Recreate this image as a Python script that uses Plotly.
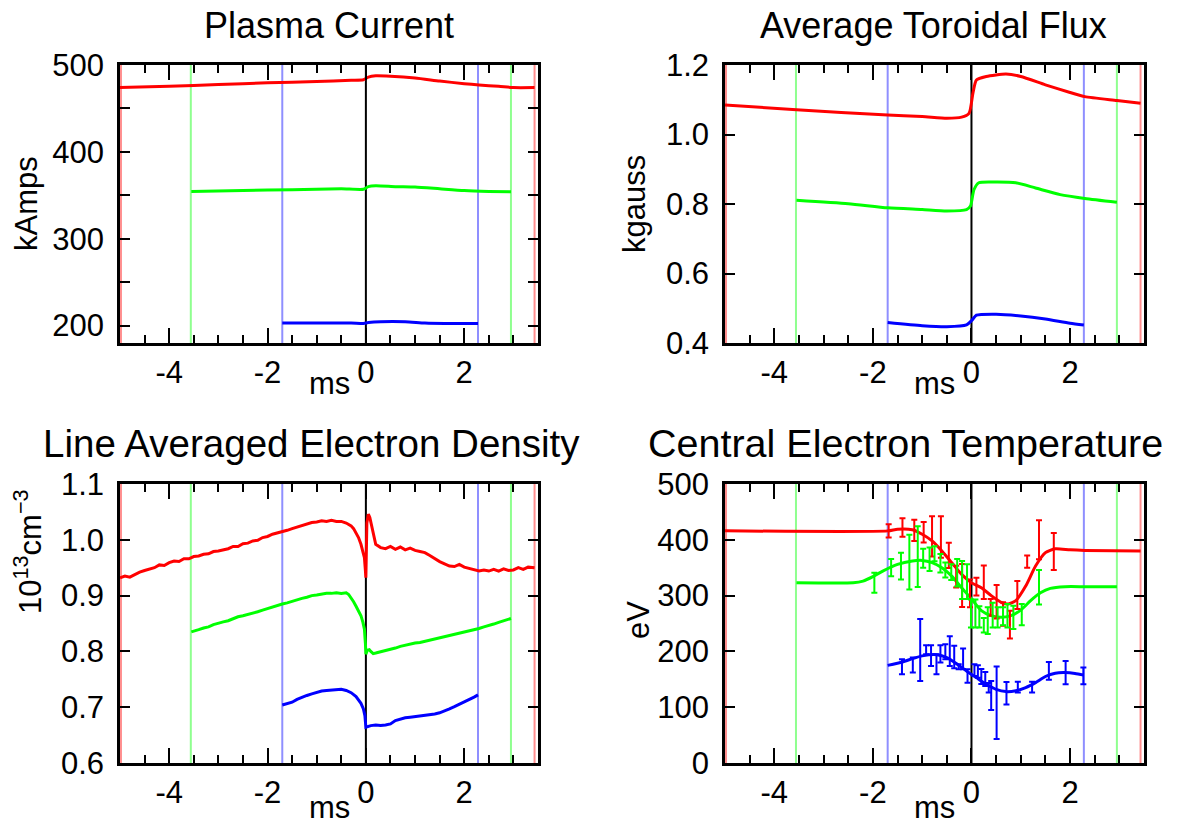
import plotly.graph_objects as go
from plotly.subplots import make_subplots

# ---------------- data ----------------
# event markers (ms)
red_window = [-4.98, 3.43]
green_window = [-3.56, 2.95]
blue_window = [-1.70, 2.28]
zero_time = [0.0]

# x tick labels (hyphen minus as in the original)
x_tickvals = [-4, -2, 0, 2]
x_ticktext = ["-4", "-2", "0", "2"]

# Plasma current (kA)
ip_red_t = [-5.0, -4.0, -3.0, -2.0, -1.0, -0.3, -0.05, 0.05, 0.2, 0.5, 1.0, 1.5, 2.0, 2.3, 2.7, 3.0, 3.43]
ip_red_v = [474, 475.5, 477.5, 479.5, 481, 482.5, 483, 486, 487.5, 487, 485, 481.5, 478.5, 477, 475.5, 474, 474]
ip_green_t = [-3.55, -2.5, -1.5, -0.5, -0.05, 0.05, 0.2, 0.6, 1.0, 1.5, 2.0, 2.5, 2.95]
ip_green_v = [354.5, 355.5, 356.5, 357.5, 357, 360, 361, 360, 359.5, 357.5, 355.5, 354.5, 354]
ip_blue_t = [-1.7, -1.0, -0.3, -0.05, 0.05, 0.3, 0.8, 1.2, 1.6, 2.0, 2.28]
ip_blue_v = [203, 203, 203, 202.5, 203.5, 204.5, 204.5, 203, 202.5, 202.5, 202.5]

# Average toroidal flux (kgauss)
bt_red_t = [-5.0, -3.55, -1.7, -1.0, -0.5, -0.2, -0.05, 0.03, 0.1, 0.3, 0.7, 1.0, 1.5, 2.0, 2.3, 2.95, 3.43]
bt_red_v = [1.085, 1.071, 1.056, 1.052, 1.047, 1.050, 1.061, 1.119, 1.157, 1.167, 1.174, 1.167, 1.143, 1.121, 1.109, 1.098, 1.090]
bt_green_t = [-3.55, -2.5, -1.7, -1.0, -0.5, -0.1, -0.02, 0.05, 0.15, 0.5, 0.9, 1.3, 1.8, 2.3, 2.95]
bt_green_v = [0.811, 0.801, 0.789, 0.784, 0.780, 0.784, 0.794, 0.841, 0.861, 0.863, 0.861, 0.846, 0.827, 0.816, 0.805]
bt_blue_t = [-1.7, -1.0, -0.5, -0.1, 0.0, 0.1, 0.5, 1.0, 1.5, 2.0, 2.28]
bt_blue_v = [0.459, 0.450, 0.447, 0.452, 0.464, 0.480, 0.483, 0.478, 0.469, 0.457, 0.452]

# Line averaged electron density (1e13 cm^-3)
ne_red_t = [-5.0, -4.9, -4.8, -4.7, -4.6, -4.5, -4.4, -4.3, -4.2, -4.1, -4.0, -3.9, -3.8, -3.7, -3.6,
            -3.5, -3.4, -3.3, -3.2, -3.1, -3.0, -2.9, -2.8, -2.7, -2.6, -2.5, -2.4, -2.3, -2.2, -2.1,
            -2.0, -1.9, -1.8, -1.7, -1.6, -1.5, -1.4, -1.3, -1.2, -1.1, -1.0, -0.9, -0.8, -0.7, -0.6,
            -0.5, -0.4, -0.3, -0.25, -0.2, -0.15, -0.1, -0.06, -0.03, -0.01, 0.0,
            0.02, 0.05, 0.08, 0.12, 0.16, 0.2, 0.3, 0.4, 0.5, 0.6, 0.7, 0.8, 0.9, 1.0, 1.1, 1.2, 1.3,
            1.4, 1.5, 1.6, 1.7, 1.8, 1.9, 2.0, 2.1, 2.2, 2.3, 2.4, 2.5, 2.6, 2.7, 2.8, 2.9, 3.0, 3.1,
            3.2, 3.3, 3.43]
ne_red_v = [0.932, 0.935, 0.933, 0.938, 0.942, 0.945, 0.948, 0.950, 0.955, 0.954, 0.959, 0.962, 0.961, 0.966, 0.966,
            0.970, 0.971, 0.974, 0.975, 0.979, 0.980, 0.982, 0.984, 0.988, 0.988, 0.993, 0.994, 0.998, 0.999, 1.004,
            1.006, 1.010, 1.012, 1.015, 1.017, 1.020, 1.023, 1.026, 1.029, 1.031, 1.032, 1.034, 1.033, 1.035, 1.033,
            1.033, 1.030, 1.025, 1.020, 1.013, 1.004, 0.992, 0.980, 0.968, 0.945, 0.932,
            1.030, 1.046, 1.040, 1.025, 1.005, 0.992, 0.986, 0.984, 0.988, 0.983, 0.987, 0.982, 0.985, 0.981, 0.979, 0.977, 0.972,
            0.966, 0.961, 0.957, 0.953, 0.952, 0.956, 0.951, 0.949, 0.946, 0.944, 0.946, 0.944, 0.947, 0.944, 0.948, 0.945, 0.946, 0.950,
            0.947, 0.951, 0.950]
ne_green_t = [-3.55, -3.5, -3.4, -3.3, -3.2, -3.1, -3.0, -2.9, -2.8, -2.7, -2.6, -2.5, -2.4, -2.3, -2.2, -2.1,
              -2.0, -1.9, -1.8, -1.7, -1.6, -1.5, -1.4, -1.3, -1.2, -1.1, -1.0, -0.9, -0.8, -0.7, -0.6, -0.5,
              -0.4, -0.35, -0.3, -0.25, -0.2, -0.15, -0.1, -0.06, -0.03, -0.01, 0.0,
              0.03, 0.07, 0.1, 0.15, 0.2, 0.3, 0.4, 0.5, 0.6, 0.7, 0.8, 0.9, 1.0, 1.1, 1.2, 1.3, 1.4, 1.5,
              1.6, 1.7, 1.8, 1.9, 2.0, 2.1, 2.2, 2.3, 2.4, 2.5, 2.6, 2.7, 2.8, 2.9, 2.95]
ne_green_v = [0.835, 0.836, 0.839, 0.842, 0.844, 0.848, 0.851, 0.853, 0.855, 0.859, 0.862, 0.864, 0.866, 0.869, 0.871, 0.874,
              0.877, 0.879, 0.882, 0.885, 0.887, 0.890, 0.892, 0.895, 0.897, 0.900, 0.901, 0.903, 0.904, 0.904, 0.905, 0.904,
              0.905, 0.902, 0.896, 0.889, 0.881, 0.873, 0.864, 0.852, 0.840, 0.815, 0.795,
              0.802, 0.803, 0.800, 0.796, 0.797, 0.799, 0.802, 0.804, 0.806, 0.809, 0.811, 0.814, 0.815, 0.816, 0.818, 0.820, 0.822, 0.824,
              0.826, 0.828, 0.830, 0.832, 0.834, 0.836, 0.839, 0.841, 0.844, 0.846, 0.849, 0.852, 0.855, 0.858, 0.859]
ne_blue_t = [-1.7, -1.6, -1.5, -1.4, -1.3, -1.2, -1.1, -1.0, -0.9, -0.8, -0.7, -0.6, -0.5, -0.4, -0.3, -0.2,
             -0.15, -0.1, -0.05, -0.02, 0.0, 0.05, 0.1, 0.2, 0.3, 0.4, 0.5, 0.6, 0.7, 0.8, 0.9, 1.0, 1.1, 1.2,
             1.3, 1.4, 1.5, 1.6, 1.7, 1.8, 1.9, 2.0, 2.1, 2.2, 2.28]
ne_blue_v = [0.704, 0.706, 0.709, 0.714, 0.718, 0.721, 0.724, 0.727, 0.729, 0.730, 0.731, 0.732, 0.732, 0.730, 0.726, 0.719,
             0.714, 0.707, 0.697, 0.685, 0.664, 0.666, 0.667, 0.668, 0.667, 0.668, 0.670, 0.676, 0.679, 0.681, 0.682, 0.683, 0.684, 0.685,
             0.686, 0.688, 0.690, 0.693, 0.697, 0.701, 0.705, 0.709, 0.713, 0.718, 0.722]

# Central electron temperature (eV): fitted curves
te_red_fit_t = [-5.0, -1.7, -1.5, -1.2, -1.0, -0.8, -0.6, -0.4, -0.2, 0.0, 0.2, 0.4, 0.6, 0.75, 0.9, 1.1, 1.3, 1.5, 1.7, 2.0, 2.3, 3.43]
te_red_fit_v = [416, 416, 419, 418, 410, 398, 380, 359, 338, 323, 314, 300, 288, 285, 291, 317, 353, 377, 384, 382, 381, 380]
te_green_fit_t = [-3.55, -2.4, -2.2, -2.0, -1.8, -1.5, -1.2, -1.0, -0.8, -0.6, -0.4, -0.2, 0.0, 0.2, 0.4, 0.6, 0.8, 1.0, 1.2, 1.4, 1.6, 1.9, 2.3, 2.95]
te_green_fit_v = [323, 323, 326, 334, 344, 356, 362, 363, 359, 350, 335, 314, 294, 273, 264, 261, 264, 274, 291, 305, 313, 316, 316, 316]
te_blue_fit_t = [-1.7, -1.4, -1.2, -1.0, -0.7, -0.5, -0.3, -0.1, 0.1, 0.3, 0.5, 0.7, 0.9, 1.1, 1.3, 1.5, 1.7, 1.9, 2.1, 2.28]
te_blue_fit_v = [175, 181, 187, 192, 194, 189, 178, 165, 153, 141, 132, 128, 129.5, 135, 144, 155, 161, 162, 160.5, 157.5]

# Central electron temperature (eV): measurements with error bars
te_red_t = [-1.68, -1.40, -1.16, -0.97, -0.80, -0.62, -0.46, -0.31, -0.19, -0.03, 0.10, 0.25, 0.39, 0.51, 0.64, 0.78, 0.93, 1.13, 1.37, 1.67]
te_red_v = [416, 422, 417, 413.5, 406, 405, 372, 334, 318, 304, 316, 324, 279, 289, 267, 248, 301, 361, 400, 379]
te_red_e = [12, 16.5, 19, 18.5, 36, 37, 22.5, 19.5, 38.5, 25, 16, 30, 15, 30, 21, 25, 25, 11, 35, 33]
te_green_t = [-1.97, -1.63, -1.43, -1.26, -1.09, -0.98, -0.85, -0.75, -0.63, -0.53, -0.41, -0.29, -0.19, -0.09,
              -0.01, 0.08, 0.16, 0.25, 0.33, 0.43, 0.53, 0.64, 0.73, 0.85, 1.02, 1.37]
te_green_v = [323, 350, 353, 360, 370, 367, 365, 375, 358, 346, 342, 341, 328, 325,
              268, 268, 262, 247, 255, 265, 261, 263, 264, 261, 266, 315]
te_green_e = [18, 15.5, 24, 49, 54.5, 17, 21, 13.5, 16.5, 13.5, 14, 24.5, 34, 31,
              25, 25, 19, 13, 24, 22, 18, 16, 21, 21, 19, 31]
te_blue_t = [-1.41, -1.19, -1.04, -0.92, -0.82, -0.71, -0.63, -0.53, -0.44, -0.35, -0.26, -0.17, -0.08,
             0.06, 0.13, 0.20, 0.28, 0.35, 0.40, 0.51, 0.71, 0.94, 1.23, 1.57, 1.91, 2.27]
te_blue_v = [172.5, 175.5, 202.5, 203, 192.5, 177, 195.5, 199.5, 200.5, 190, 172.5, 186.5, 156,
             166.5, 164, 155, 150.5, 135, 121, 108, 125, 136, 136, 165, 162, 156]
te_blue_e = [13.5, 13.5, 55.5, 8, 18.5, 18, 15.5, 13.5, 26.5, 20, 4.5, 18.5, 12,
             10.5, 11, 13.5, 12.5, 8.5, 26, 65, 20, 9.5, 9.5, 16, 21, 15]

# ---------------- figure ----------------
RED, GREEN, BLUE = "#ff0000", "#00ff00", "#0000ff"
RED_L, GREEN_L, BLUE_L = "#ff8f8f", "#8fff8f", "#8f8fff"
FONT = "Liberation Sans, Arial, Helvetica, sans-serif"

fig = make_subplots(rows=2, cols=2)

def line(t, v, color, row, col, smooth=True):
    fig.add_trace(go.Scatter(x=t, y=v, mode="lines",
                             line=dict(color=color, width=3, shape="spline" if smooth else "linear",
                                       smoothing=0.6),
                             showlegend=False, hoverinfo="skip"), row=row, col=col)

def errs(t, v, e, color, row, col):
    fig.add_trace(go.Scatter(x=t, y=v, mode="markers",
                             marker=dict(size=1, color=color),
                             error_y=dict(type="data", array=e, visible=True, color=color,
                                          thickness=2, width=3),
                             showlegend=False, hoverinfo="skip"), row=row, col=col)

line(ip_red_t, ip_red_v, RED, 1, 1)
line(ip_green_t, ip_green_v, GREEN, 1, 1)
line(ip_blue_t, ip_blue_v, BLUE, 1, 1)

line(bt_red_t, bt_red_v, RED, 1, 2)
line(bt_green_t, bt_green_v, GREEN, 1, 2)
line(bt_blue_t, bt_blue_v, BLUE, 1, 2)

line(ne_red_t, ne_red_v, RED, 2, 1, smooth=False)
line(ne_green_t, ne_green_v, GREEN, 2, 1, smooth=False)
line(ne_blue_t, ne_blue_v, BLUE, 2, 1, smooth=False)

line(te_red_fit_t, te_red_fit_v, RED, 2, 2)
line(te_green_fit_t, te_green_fit_v, GREEN, 2, 2)
line(te_blue_fit_t, te_blue_fit_v, BLUE, 2, 2)
errs(te_red_t, te_red_v, te_red_e, RED, 2, 2)
errs(te_green_t, te_green_v, te_green_e, GREEN, 2, 2)
errs(te_blue_t, te_blue_v, te_blue_e, BLUE, 2, 2)

# vertical event lines
for axn in ["", "2", "3", "4"]:
    for xs, c in [(red_window, RED_L), (green_window, GREEN_L), (blue_window, BLUE_L), (zero_time, "black")]:
        for xv in xs:
            fig.add_shape(type="line", xref="x" + axn, yref=("y" + axn + " domain"),
                          x0=xv, x1=xv, y0=0, y1=1, layer="below",
                          line=dict(color=c, width=2))

W, H = 1177, 823
xdom = [[120 / W, 538 / W], [725 / W, 1144 / W]]
ydom = [[1 - 343 / H, 1 - 65 / H], [1 - 763 / H, 1 - 484 / H]]

yranges = [[180, 500], [0.4, 1.2], [0.6, 1.1], [0, 500]]
ydticks = [100, 0.2, 0.1, 100]
yminor = [50, None, None, None]
yfmt = ["", ".1f", ".1f", ""]

k = 0
for r in (1, 2):
    for c in (1, 2):
        fig.update_xaxes(row=r, col=c, domain=xdom[c - 1], range=[-5, 3.5], automargin=False,
                         tickmode="array", tickvals=x_tickvals, ticktext=x_ticktext,
                         ticks="inside", ticklen=15, tickwidth=2,
                         tickcolor="black", showline=True, linecolor="black", linewidth=2.5,
                         mirror="ticks", showgrid=False, zeroline=False,
                         tickfont=dict(size=31, color="black", family=FONT),
                         ticklabelstandoff=0,
                         minor=dict(tickmode="linear", tick0=0, dtick=0.5, ticks="inside", ticklen=8,
                                    tickwidth=2, tickcolor="black", showgrid=False))
        ykw = dict(row=r, col=c, domain=ydom[r - 1], range=yranges[k], automargin=False,
                   tick0=0, dtick=ydticks[k], ticks="inside", ticklen=10, tickwidth=2,
                   tickcolor="black", showline=True, linecolor="black", linewidth=2.5,
                   mirror="ticks", showgrid=False, zeroline=False, tickformat=yfmt[k],
                   tickfont=dict(size=31, color="black", family=FONT), ticklabelstandoff=7)
        if yminor[k]:
            ykw["minor"] = dict(tick0=0, dtick=yminor[k], ticks="inside", ticklen=10,
                                tickwidth=2, tickcolor="black", showgrid=False)
        fig.update_yaxes(**ykw)
        k += 1

titles = ["Plasma Current", "Average Toroidal Flux", "Line Averaged Electron Density", "Central Electron Temperature"]
title_size = [36, 36, 38.5, 39.5]
title_x = [329, 934, 311, 905]
title_y = [25.5, 25.5, 443, 443]
ytitles = ["kAmps", "kgauss", "10<sup>13</sup>cm<sup>\u22123</sup>", "eV"]
ytitle_x = [27, 635, 28, 638]
ytitle_y = [204, 204, 552, 620]
ms_y = [383, 383, 807, 807]

ann = []
k = 0
for r in (1, 2):
    for c in (1, 2):
        xc = (xdom[c - 1][0] + xdom[c - 1][1]) / 2
        ann.append(dict(text=titles[k], x=title_x[k] / W, y=1 - title_y[k] / H, xref="paper", yref="paper",
                        showarrow=False, xanchor="center", yanchor="middle",
                        font=dict(size=title_size[k], color="black", family=FONT)))
        ann.append(dict(text="ms", x=xc, y=1 - ms_y[k] / H, xref="paper", yref="paper",
                        showarrow=False, xanchor="center", yanchor="middle",
                        font=dict(size=31, color="black", family=FONT)))
        ann.append(dict(text=ytitles[k], x=ytitle_x[k] / W, y=1 - ytitle_y[k] / H, xref="paper", yref="paper",
                        showarrow=False, xanchor="center", yanchor="middle", textangle=-90,
                        font=dict(size=31, color="black", family=FONT)))
        k += 1

fig.update_layout(width=W, height=H, margin=dict(l=0, r=0, t=0, b=0, autoexpand=False),
                  paper_bgcolor="white", plot_bgcolor="white", showlegend=False,
                  annotations=ann)

fig.write_html("out.html")
